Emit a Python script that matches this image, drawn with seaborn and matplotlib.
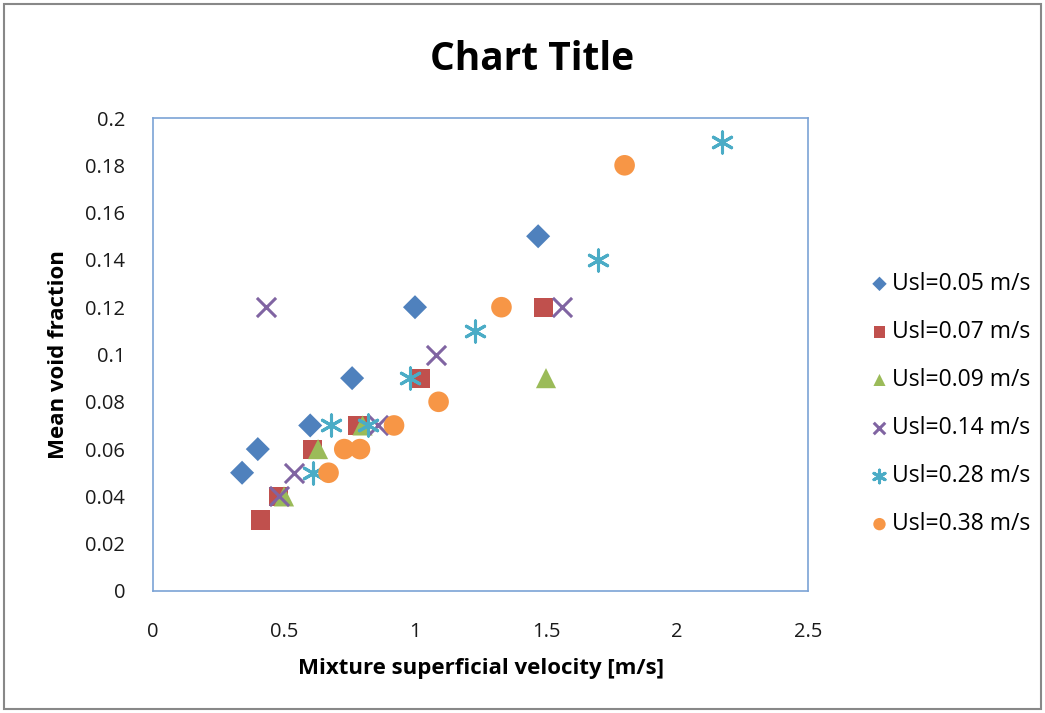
import matplotlib
matplotlib.use("Agg")
import matplotlib.pyplot as plt
import seaborn as sns
import pandas as pd
from matplotlib.patches import Rectangle

# ---- data ----
labels = ["Usl=0.05 m/s", "Usl=0.07 m/s", "Usl=0.09 m/s",
          "Usl=0.14 m/s", "Usl=0.28 m/s", "Usl=0.38 m/s"]
x_005 = [0.34, 0.40, 0.60, 0.76, 1.00, 1.47]
y_005 = [0.05, 0.06, 0.07, 0.09, 0.12, 0.15]
x_007 = [0.41, 0.48, 0.61, 0.78, 1.02, 1.49]
y_007 = [0.03, 0.04, 0.06, 0.07, 0.09, 0.12]
x_009 = [0.50, 0.63, 0.80, 1.50]
y_009 = [0.04, 0.06, 0.07, 0.09]
x_014 = [0.43, 0.48, 0.54, 0.86, 1.08, 1.56]
y_014 = [0.12, 0.04, 0.05, 0.07, 0.10, 0.12]
x_028 = [0.61, 0.68, 0.82, 0.98, 1.23, 1.70, 2.17]
y_028 = [0.05, 0.07, 0.07, 0.09, 0.11, 0.14, 0.19]
x_038 = [0.67, 0.73, 0.79, 0.92, 1.09, 1.33, 1.80]
y_038 = [0.05, 0.06, 0.06, 0.07, 0.08, 0.12, 0.18]
x_ticks = [0, 0.5, 1, 1.5, 2, 2.5]
y_ticks = [0, 0.02, 0.04, 0.06, 0.08, 0.1, 0.12, 0.14, 0.16, 0.18, 0.2]
x_tick_labels = ["0", "0.5", "1", "1.5", "2", "2.5"]
y_tick_labels = ["0", "0.02", "0.04", "0.06", "0.08", "0.1", "0.12",
                 "0.14", "0.16", "0.18", "0.2"]

series = [(x_005, y_005), (x_007, y_007), (x_009, y_009),
          (x_014, y_014), (x_028, y_028), (x_038, y_038)]
colors = ["#4F81BD", "#C0504D", "#9BBB59", "#8064A2", "#4BACC6", "#F79646"]
markers = ["D", "s", "^", "x", (6, 2, 0), "o"]
sizes = [150, 190, 210, 190, 230, 220]
filled = [True, True, True, False, False, True]

sns.set_theme(style="white")
plt.rcParams["font.family"] = ["Open Sans", "DejaVu Sans"]

fig = plt.figure(figsize=(10.45, 7.13), dpi=100)
ax = fig.add_axes([153/1045, 1-591/713, (808-153)/1045, (591-118)/713])

for (xs, ys), lab, c, m, s, f in zip(series, labels, colors, markers, sizes, filled):
    df = pd.DataFrame({"x": xs, "y": ys})
    if f:
        sns.scatterplot(data=df, x="x", y="y", ax=ax, color=c, marker=m, s=s,
                        edgecolor="none", label=lab, zorder=3)
    else:
        sns.scatterplot(data=df, x="x", y="y", ax=ax, color=c, marker=m, s=s,
                        linewidth=2.2, label=lab, zorder=3)

ax.set_xlim(0, 2.5)
ax.set_ylim(0, 0.2)
ax.set_xticks(x_ticks)
ax.set_xticklabels(x_tick_labels)
ax.set_yticks(y_ticks)
ax.set_yticklabels(y_tick_labels)
ax.tick_params(axis="both", labelsize=14.5, length=0, colors="#1a1a1a")
ax.tick_params(axis="y", pad=20)
ax.tick_params(axis="x", pad=22)
for sp in ax.spines.values():
    sp.set_color("#7BA3D6")
    sp.set_linewidth(1.2)

ax.set_xlabel("Mixture superficial velocity [m/s]", fontsize=16,
              fontweight="bold", labelpad=12, color="black")
ax.set_ylabel("Mean void fraction", fontsize=16, fontweight="bold",
              labelpad=12, color="black")
fig.text(532/1045, 1-60/713, "Chart Title", ha="center", va="center",
         fontsize=28, fontweight="bold", color="black")

leg = ax.legend(loc="center left", bbox_to_anchor=(860/1045, 1-404/713),
                bbox_transform=fig.transFigure, frameon=False,
                fontsize=16.5, markerscale=0.6, labelspacing=1.05,
                handletextpad=0.1, handlelength=0.9, borderaxespad=0)
for t in leg.get_texts():
    t.set_color("black")

fig.patches.append(Rectangle((0.004, 0.006), 0.992, 0.988, transform=fig.transFigure,
                             fill=False, edgecolor="#888888", linewidth=1.5))

fig.savefig("out.png", dpi=100, facecolor="white")
